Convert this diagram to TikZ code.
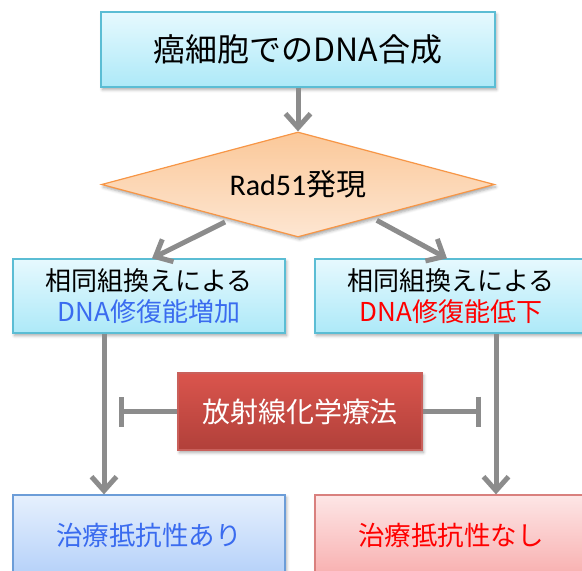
\documentclass[tikz,border=0pt]{standalone}
\usepackage{fontspec}
\setmainfont{Noto Sans CJK JP}
\newfontfamily\latfont{Carlito}
\usetikzlibrary{shapes.geometric,arrows.meta,shadows.blur,calc}
\definecolor{cyantop}{HTML}{E6F9FE}
\definecolor{cyanbot}{HTML}{ADE9F8}
\definecolor{cyanline}{HTML}{5BBDD4}
\definecolor{peachtop}{HTML}{FBC899}
\definecolor{peachbot}{HTML}{FDE6D2}
\definecolor{peachline}{HTML}{F79646}
\definecolor{redtop}{HTML}{DA554D}
\definecolor{redbot}{HTML}{B1403A}
\definecolor{redline}{HTML}{C9605B}
\definecolor{bluetop}{HTML}{E6F0FD}
\definecolor{bluebot}{HTML}{B5D1F9}
\definecolor{blueline}{HTML}{6C9DD8}
\definecolor{pinktop}{HTML}{FDE6E6}
\definecolor{pinkbot}{HTML}{F8B0B0}
\definecolor{pinkline}{HTML}{D9807E}
\definecolor{bluetxt}{HTML}{3A6BEF}
\definecolor{redtxt}{HTML}{FF0000}
\definecolor{arrgray}{HTML}{8C8C8C}
\begin{document}
\begin{tikzpicture}[x=1pt,y=-1pt,
  boxbase/.style={draw, line width=1.2pt, inner sep=0pt, align=center,
    blur shadow={shadow xshift=1.5pt, shadow yshift=-2.5pt, shadow blur radius=3pt, shadow opacity=35}},
  cyanbox/.style={boxbase, draw=cyanline, top color=cyantop, bottom color=cyanbot},
  redbox/.style={boxbase, draw=redline, top color=redtop, bottom color=redbot, text=white},
  bluebox/.style={boxbase, draw=blueline, top color=bluetop, bottom color=bluebot, text=bluetxt},
  pinkbox/.style={boxbase, draw=pinkline, top color=pinktop, bottom color=pinkbot, text=redtxt},
  decision/.style={boxbase, diamond, draw=peachline, top color=peachtop, bottom color=peachbot},
  arr/.style={draw=arrgray, line width=5pt, -{Straight Barb[length=14pt,width=25pt]}},
  inhib/.style={draw=arrgray, line width=5pt, -{Bar[width=30pt]}},
  midfont/.style={font=\fontsize{26}{31}\selectfont},
]
\useasboundingbox (0,0) rectangle (582,571);

\node[font=\fontsize{28}{28}\selectfont, text=black!80, anchor=base west, inner sep=0pt] (dot) at (-11,46) {。};

\node[cyanbox, minimum width=394pt, minimum height=75pt, font=\fontsize{32}{36}\selectfont] (top) at (298,49.5) {癌細胞でのDNA合成};

\node[decision, minimum width=393pt, minimum height=105pt, aspect=3.74, font=\fontsize{30}{34}\selectfont] (dia) at (298,184.5) {{\latfont Rad51}発現};

\node[cyanbox, minimum width=272pt, minimum height=74pt, midfont] (lm) at (149,296) {相同組換えによる\\{\color{bluetxt}DNA修復能増加}};
\node[cyanbox, minimum width=272pt, minimum height=74pt, midfont] (rm) at (451,296) {相同組換えによる\\{\color{redtxt}DNA修復能低下}};

\node[redbox, minimum width=244pt, minimum height=77pt, font=\fontsize{28}{32}\selectfont] (rx) at (300,411.5) {放射線化学療法};

\node[bluebox, minimum width=272pt, minimum height=80pt, font=\fontsize{26.5}{30}\selectfont] (lb) at (149,535) {治療抵抗性あり};
\node[pinkbox, minimum width=272pt, minimum height=80pt, font=\fontsize{26.5}{30}\selectfont] (rb) at (451,535) {治療抵抗性なし};

\coordinate (tl) at (119,411.5);
\coordinate (tr) at (481,411.5);

\draw[arr] (top.south) -- (dia.north);
\draw[arr] ([yshift=-4pt]$(dia.south)!0.37!(dia.west)$) -- ([xshift=3pt]lm.north);
\draw[arr] ([yshift=-4pt]$(dia.south)!0.40!(dia.east)$) -- ([xshift=-4pt]rm.north);
\draw[arr] ([xshift=-45pt]lm.south) -- ([xshift=-45pt]lb.north);
\draw[arr] ([xshift=45pt]rm.south) -- ([xshift=45pt]rb.north);
\draw[inhib] (rx.west) -- (tl);
\draw[inhib] (rx.east) -- (tr);
\end{tikzpicture}
\end{document}
